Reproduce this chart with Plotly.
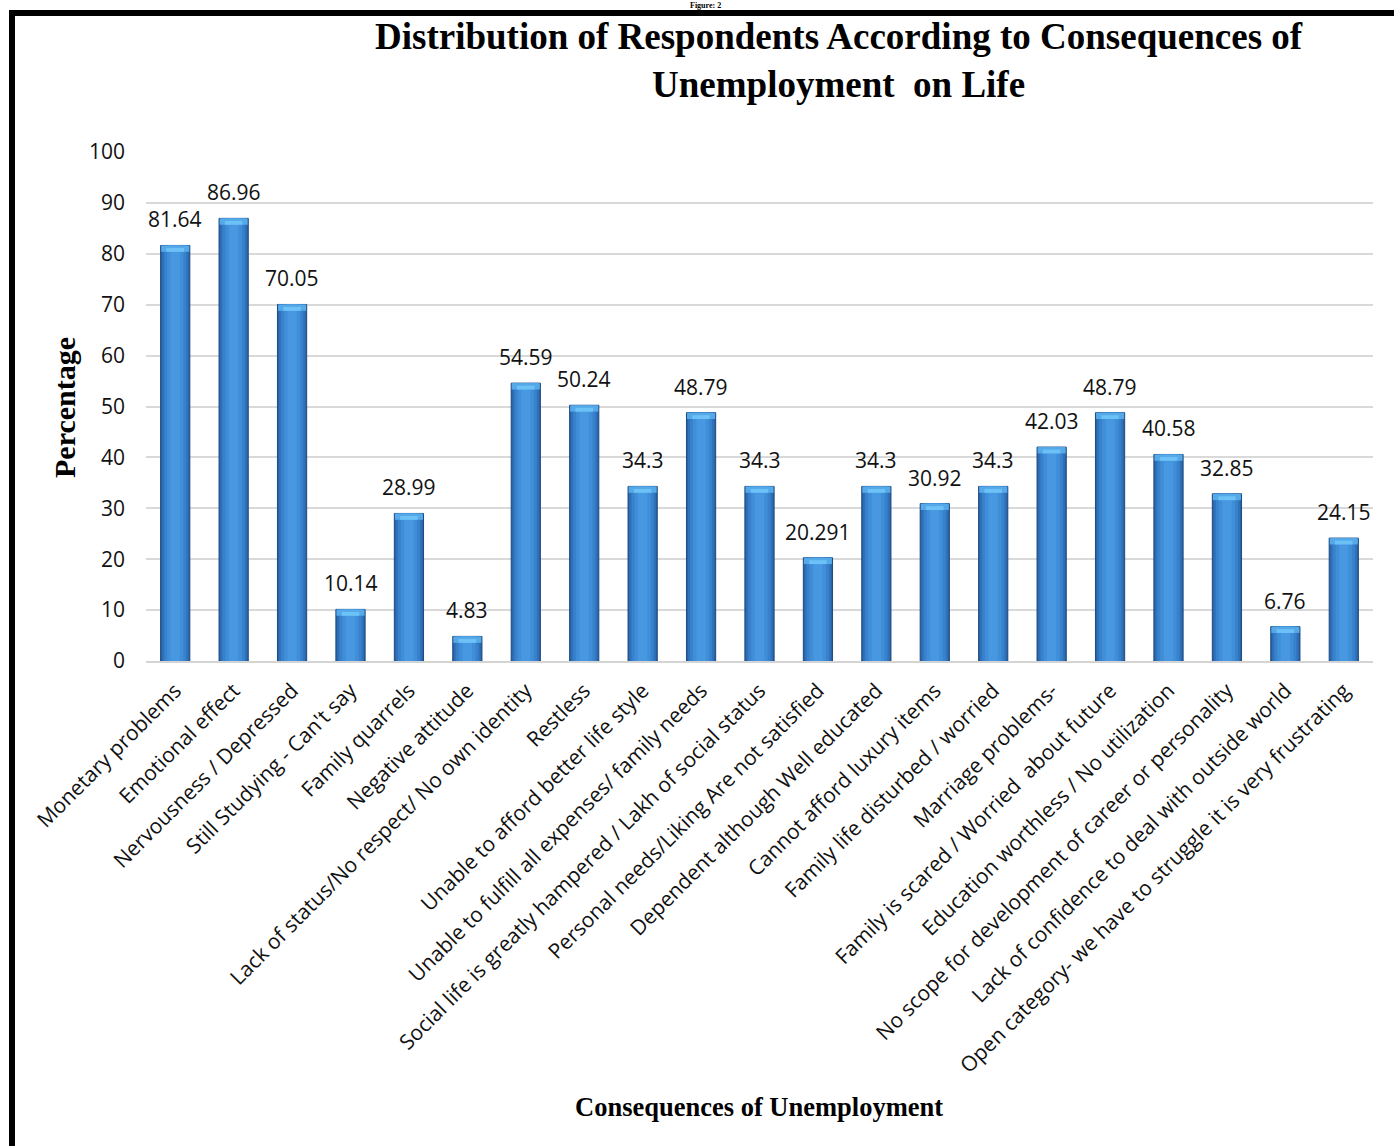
import plotly.graph_objects as go

categories = [
    "Monetary problems",
    "Emotional effect",
    "Nervousness / Depressed",
    "Still Studying - Can't say",
    "Family quarrels",
    "Negative attitude",
    "Lack of status/No respect/ No own identity",
    "Restless",
    "Unable to afford better life style",
    "Unable to fulfill all expenses/ family needs",
    "Social life is greatly hampered / Lakh of social status",
    "Personal needs/Liking Are not satisfied",
    "Dependent although Well educated",
    "Cannot afford luxury items",
    "Family life disturbed / worried",
    "Marriage problems-",
    "Family is scared / Worried  about future",
    "Education worthless / No utilization",
    "No scope for development of career or personality",
    "Lack of confidence to deal with outside world",
    "Open category- we have to struggle it is very frustrating",
]
values = [81.64, 86.96, 70.05, 10.14, 28.99, 4.83, 54.59, 50.24, 34.3, 48.79,
          34.3, 20.291, 34.3, 30.92, 34.3, 42.03, 48.79, 40.58, 32.85, 6.76, 24.15]
value_labels = ["81.64", "86.96", "70.05", "10.14", "28.99", "4.83", "54.59", "50.24",
                "34.3", "48.79", "34.3", "20.291", "34.3", "30.92", "34.3", "42.03",
                "48.79", "40.58", "32.85", "6.76", "24.15"]
y_ticks = [0, 10, 20, 30, 40, 50, 60, 70, 80, 90, 100]

W, H = 1394, 1146
L, R, T, B = 146, 21, 152, 485
PW, PH = W - L - R, H - T - B

def px_x(px):
    return (px - L) / PW

def px_y(py):
    return (H - B - py) / PH

fig = go.Figure()

# cylinder-like shading by overlaying bars of decreasing width
layers = [
    (0.50, "#2a62a4", dict(color="#1d4a80", width=1)),
    (0.45, "#3072ba", None),
    (0.38, "#3881cc", None),
    (0.28, "#408dd8", None),
    (0.16, "#4797e1", None),
]
for w, c, ln in layers:
    fig.add_trace(go.Bar(
        x=categories, y=values, width=w,
        marker=dict(color=c, line=ln if ln else dict(width=0)),
        hoverinfo="skip", showlegend=False,
    ))

# bevelled top highlight
cap_h = 1.25
fig.add_trace(go.Bar(
    x=categories, y=[cap_h] * len(values), base=[v - cap_h for v in values], width=0.48,
    marker=dict(color="#55a9e8", line=dict(width=0)), hoverinfo="skip", showlegend=False,
))
fig.add_trace(go.Bar(
    x=categories, y=[cap_h * 0.6] * len(values), base=[v - cap_h for v in values], width=0.30,
    marker=dict(color="#6cc2f6", line=dict(width=0)), hoverinfo="skip", showlegend=False,
))

annotations = []
for c, v, t in zip(categories, values, value_labels):
    annotations.append(dict(
        x=c, y=v, xref="x", yref="y", text=t, showarrow=False,
        yanchor="bottom", yshift=10,
        font=dict(family="Open Sans", size=21, color="#111111"),
    ))

serif = "Liberation Serif"
annotations += [
    dict(x=px_x(839), y=px_y(61), xref="paper", yref="paper", showarrow=False,
         text="<b>Distribution of Respondents According to Consequences of<br>Unemployment  on Life</b>",
         xanchor="center", yanchor="middle", align="center",
         font=dict(family=serif, size=37, color="#000000")),
    dict(x=px_x(705), y=px_y(0), xref="paper", yref="paper", showarrow=False,
         text="<b>Figure: 2</b>", xanchor="center", yanchor="top", borderpad=0,
         font=dict(family=serif, size=8, color="#000000")),
    dict(x=px_x(64), y=px_y(408), xref="paper", yref="paper", showarrow=False,
         text="<b>Percentage</b>", textangle=-90, xanchor="center", yanchor="middle",
         font=dict(family=serif, size=30, color="#000000")),
    dict(x=px_x(759), y=px_y(1107), xref="paper", yref="paper", showarrow=False,
         text="<b>Consequences of Unemployment</b>", xanchor="center", yanchor="middle",
         font=dict(family=serif, size=26.5, color="#000000")),
]

shapes = [
    dict(type="line", xref="paper", yref="paper", x0=px_x(12), x1=px_x(12),
         y0=px_y(10), y1=px_y(1160), line=dict(color="#000000", width=6)),
    dict(type="line", xref="paper", yref="paper", x0=px_x(9), x1=px_x(1400),
         y0=px_y(13), y1=px_y(13), line=dict(color="#000000", width=6)),
]

fig.update_layout(
    width=W, height=H,
    margin=dict(l=L, r=R, t=T, b=B, autoexpand=False),
    paper_bgcolor="white", plot_bgcolor="white",
    barmode="overlay",
    annotations=annotations, shapes=shapes,
    showlegend=False,
)
fig.update_xaxes(
    type="category", tickangle=-45,
    tickfont=dict(family="Open Sans", size=21, color="#111111"),
    showline=True, linecolor="#d4d4d4", linewidth=2,
    showgrid=False, ticks="", ticklabelstandoff=7,
)
fig.update_yaxes(
    range=[0, 100], tickvals=y_ticks,
    tickfont=dict(family="Open Sans", size=21, color="#111111"),
    showgrid=True, gridcolor="#d9d9d9", gridwidth=1.5,
    zeroline=False, showline=False, ticks="", ticklabelstandoff=20,
)

fig.write_html("out.html")
